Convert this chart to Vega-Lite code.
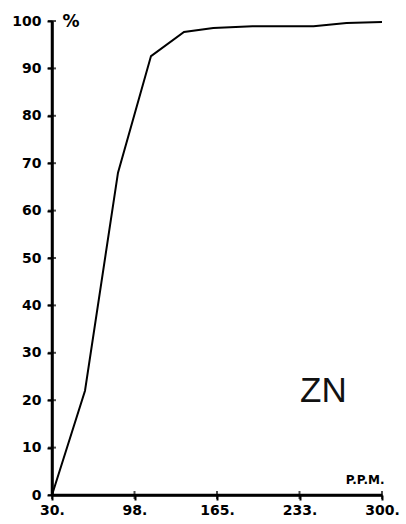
{
  "$schema": "https://vega.github.io/schema/vega-lite/v6.json",
  "width": 330,
  "height": 474,
  "autosize": {"type": "none"},
  "padding": {"left": 52, "top": 21, "right": 24, "bottom": 29},
  "background": "white",
  "config": {
    "view": {"stroke": null},
    "axis": {
      "grid": false,
      "domain": true,
      "domainColor": "black",
      "domainWidth": 2.5,
      "ticks": true,
      "tickColor": "black",
      "tickWidth": 2,
      "tickSize": 5,
      "labelFlush": false,
      "labelOverlap": false,
      "labelFont": "DejaVu Sans",
      "labelFontWeight": "bold",
      "labelColor": "black",
      "titleFont": "DejaVu Sans",
      "titleFontWeight": "bold",
      "titleColor": "black"
    }
  },
  "datasets": {
    "curve": [
      {"ppm": 30, "pct": 0},
      {"ppm": 57, "pct": 22},
      {"ppm": 84, "pct": 68},
      {"ppm": 111, "pct": 92.6},
      {"ppm": 138, "pct": 97.7},
      {"ppm": 162, "pct": 98.5},
      {"ppm": 194, "pct": 98.9},
      {"ppm": 244, "pct": 98.9},
      {"ppm": 271, "pct": 99.6},
      {"ppm": 300, "pct": 99.8}
    ],
    "frame": [
      {"side": "left", "x0": 30, "x1": 30, "y0": 0, "y1": 100},
      {"side": "bottom", "x0": 30, "x1": 300, "y0": 0, "y1": 0}
    ],
    "xticks": [{"ppm": 30}, {"ppm": 97.5}, {"ppm": 165}, {"ppm": 232.5}, {"ppm": 300}],
    "yticks": [{"pct": 0}, {"pct": 10}, {"pct": 20}, {"pct": 30}, {"pct": 40}, {"pct": 50}, {"pct": 60}, {"pct": 70}, {"pct": 80}, {"pct": 90}, {"pct": 100}]
  },
  "layer": [
    {
      "data": {"name": "curve"},
      "mark": {"type": "line", "stroke": "black", "strokeWidth": 2},
      "encoding": {
        "x": {
          "field": "ppm",
          "type": "quantitative",
          "scale": {"domain": [30, 300], "nice": false, "zero": false},
          "axis": {
            "values": [30, 97.5, 165, 232.5, 300],
            "labelExpr": "format(datum.value, '.0f') + '.'",
            "labelFontSize": 14,
            "labelPadding": 3,
            "title": "P.P.M.",
            "titleFontSize": 12,
            "titleX": 332,
            "titleY": -9,
            "titleAlign": "right",
            "titleBaseline": "bottom"
          }
        },
        "y": {
          "field": "pct",
          "type": "quantitative",
          "scale": {"domain": [0, 100], "nice": false},
          "axis": {
            "values": [0, 10, 20, 30, 40, 50, 60, 70, 80, 90, 100],
            "labelFontSize": 14,
            "labelPadding": 6,
            "title": "%",
            "titleFontSize": 17,
            "titleAngle": 0,
            "titleX": 10,
            "titleY": 0,
            "titleAlign": "left",
            "titleBaseline": "middle"
          }
        }
      }
    },
    {
      "data": {"values": [{"ppm": 252, "pct": 22, "label": "ZN"}]},
      "mark": {"type": "text", "font": "Liberation Sans", "fontSize": 35, "color": "#111", "baseline": "middle", "align": "center"},
      "encoding": {
        "x": {"field": "ppm", "type": "quantitative"},
        "y": {"field": "pct", "type": "quantitative"},
        "text": {"field": "label"}
      }
    },
    {
      "data": {"name": "frame"},
      "mark": {"type": "rect", "fill": "black", "stroke": "black", "strokeWidth": 2.5, "clip": false},
      "encoding": {
        "x": {"field": "x0", "type": "quantitative"},
        "x2": {"field": "x1"},
        "y": {"field": "y0", "type": "quantitative"},
        "y2": {"field": "y1"}
      }
    },
    {
      "data": {"name": "yticks"},
      "mark": {"type": "tick", "orient": "horizontal", "color": "black", "thickness": 2, "size": 8, "clip": false},
      "encoding": {
        "x": {"datum": 30, "type": "quantitative"},
        "y": {"field": "pct", "type": "quantitative"}
      }
    },
    {
      "data": {"name": "xticks"},
      "mark": {"type": "tick", "orient": "vertical", "color": "black", "thickness": 2, "size": 8, "clip": false},
      "encoding": {
        "x": {"field": "ppm", "type": "quantitative"},
        "y": {"datum": 0, "type": "quantitative"}
      }
    }
  ]
}
